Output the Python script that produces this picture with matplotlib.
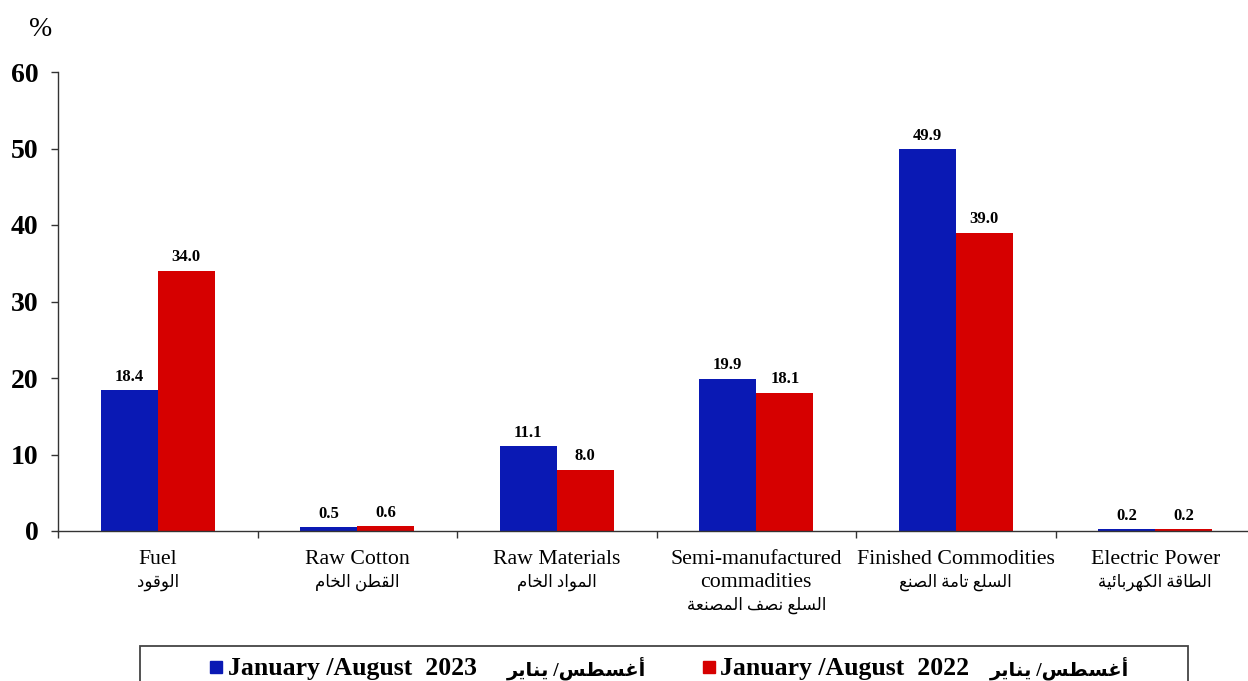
import matplotlib
matplotlib.use('Agg')
import matplotlib.pyplot as plt
from matplotlib.patches import Rectangle

# data
categories_en = ['Fuel', 'Raw Cotton', 'Raw Materials', 'Semi-manufactured\ncommadities',
                 'Finished Commodities', 'Electric Power']
categories_ar = ['الوقود', 'القطن الخام', 'المواد الخام', 'السلع نصف المصنعة',
                 'السلع تامة الصنع', 'الطاقة الكهربائية']
values_2023 = [18.4, 0.5, 11.1, 19.9, 49.9, 0.2]
values_2022 = [34.0, 0.6, 8.0, 18.1, 39.0, 0.2]
legend_en = ['January /August  2023', 'January /August  2022']
legend_ar_words = ['يناير', 'أغسطس']
y_ticks = [0, 10, 20, 30, 40, 50, 60]

BLUE = '#0a19b4'
RED = '#d60000'
SERIF = ['Liberation Serif', 'DejaVu Sans']

# matplotlib has no Arabic shaping, so map letters to presentation forms by hand
FORMS = {
    'ا': (0xFE8D, 0xFE8E), 'أ': (0xFE83, 0xFE84), 'د': (0xFEA9, 0xFEAA),
    'ر': (0xFEAD, 0xFEAE), 'و': (0xFEED, 0xFEEE), 'ة': (0xFE93, 0xFE94),
    'ب': (0xFE8F, 0xFE90, 0xFE91, 0xFE92), 'ت': (0xFE95, 0xFE96, 0xFE97, 0xFE98),
    'خ': (0xFEA5, 0xFEA6, 0xFEA7, 0xFEA8), 'س': (0xFEB1, 0xFEB2, 0xFEB3, 0xFEB4),
    'ص': (0xFEB9, 0xFEBA, 0xFEBB, 0xFEBC), 'ط': (0xFEC1, 0xFEC2, 0xFEC3, 0xFEC4),
    'ع': (0xFEC9, 0xFECA, 0xFECB, 0xFECC), 'غ': (0xFECD, 0xFECE, 0xFECF, 0xFED0),
    'ف': (0xFED1, 0xFED2, 0xFED3, 0xFED4), 'ق': (0xFED5, 0xFED6, 0xFED7, 0xFED8),
    'ك': (0xFED9, 0xFEDA, 0xFEDB, 0xFEDC), 'ل': (0xFEDD, 0xFEDE, 0xFEDF, 0xFEE0),
    'م': (0xFEE1, 0xFEE2, 0xFEE3, 0xFEE4), 'ن': (0xFEE5, 0xFEE6, 0xFEE7, 0xFEE8),
    'ه': (0xFEE9, 0xFEEA, 0xFEEB, 0xFEEC), 'ي': (0xFEF1, 0xFEF2, 0xFEF3, 0xFEF4),
    'ئ': (0xFE89, 0xFE8A, 0xFE8B, 0xFE8C),
}
LAM_ALEF = {'ا': (0xFEFB, 0xFEFC), 'أ': (0xFEF7, 0xFEF8)}


def dual(c):
    return c in FORMS and len(FORMS[c]) == 4


def shape(text):
    chars = list(text)
    out = []
    i = 0
    while i < len(chars):
        c = chars[i]
        prev = chars[i - 1] if i > 0 else ''
        if c not in FORMS:
            out.append(c)
            i += 1
            continue
        jp = dual(prev)
        if c == 'ل' and i + 1 < len(chars) and chars[i + 1] in LAM_ALEF:
            out.append(chr(LAM_ALEF[chars[i + 1]][1 if jp else 0]))
            i += 2
            continue
        nxt = chars[i + 1] if i + 1 < len(chars) else ''
        jn = dual(c) and nxt in FORMS
        f = FORMS[c]
        if jp and jn:
            out.append(chr(f[3]))
        elif jp:
            out.append(chr(f[1]))
        elif jn:
            out.append(chr(f[2]))
        else:
            out.append(chr(f[0]))
        i += 1
    return ''.join(reversed(out))


fig = plt.figure(figsize=(12.48, 6.81), dpi=100)
W, H = 1248, 681
ax = fig.add_axes([58 / W, (H - 531) / H, 6 * 199.5 / W, (531 - 72) / H])

n = len(categories_en)
x = list(range(n))
bw = 0.286
ax.bar([i - bw / 2 for i in x], values_2023, bw, color=BLUE)
ax.bar([i + bw / 2 for i in x], values_2022, bw, color=RED)

for i in x:
    for dx, v in ((-bw / 2, values_2023[i]), (bw / 2, values_2022[i])):
        ax.annotate(f'{v:.1f}', (i + dx, v), xytext=(0, 4), textcoords='offset points',
                    ha='center', va='bottom', fontsize=12, fontweight='bold', family=SERIF)

ax.set_xlim(-0.5, n - 0.5)
ax.set_ylim(0, 60)
ax.set_yticks(y_ticks)
ax.set_yticklabels([str(t) for t in y_ticks], fontsize=20, fontweight='bold', family=SERIF)
ax.set_xticks([i - 0.5 for i in range(n)])
ax.set_xticklabels([])
ax.tick_params(axis='both', direction='out', length=5, width=1, color='#333333')
ax.tick_params(axis='y', pad=9)
for s in ('top', 'right'):
    ax.spines[s].set_visible(False)
for s in ('left', 'bottom'):
    ax.spines[s].set_color('#333333')
    ax.spines[s].set_linewidth(1)

for i in x:
    en = categories_en[i]
    nl = en.count('\n') + 1
    ax.annotate(en, (i, 0), xycoords=('data', 'axes fraction'), xytext=(0, -13.5),
                textcoords='offset points', ha='center', va='top', fontsize=15.7,
                family=SERIF, linespacing=1.3)
    ax.annotate(shape(categories_ar[i]), (i, 0), xycoords=('data', 'axes fraction'),
                xytext=(0, -13.4 - 17.1 * nl), textcoords='offset points', ha='center',
                va='top', fontsize=12, family=SERIF)

fig.text(41 / W, 1 - 29 / H, '%', fontsize=20, family=SERIF, ha='center', va='center')

# legend box at the bottom, cut by the figure edge like the original
fig.patches.append(Rectangle((140 / W, -0.02), (1188 - 140) / W, (H - 646) / H + 0.02,
                             transform=fig.transFigure, fill=False, edgecolor='#444444',
                             linewidth=1.3))
ar_label = shape(legend_ar_words[0]) + ' /' + shape(legend_ar_words[1])
for color, sx in ((BLUE, 210), (RED, 703)):
    fig.patches.append(Rectangle((sx / W, 1 - 673 / H), 12 / W, 12 / H,
                                 transform=fig.transFigure, color=color))
for lab, tx, ax_x in ((legend_en[0], 228, 507), (legend_en[1], 720, 990)):
    fig.text(tx / W, 1 - 668 / H, lab, fontsize=18.5, fontweight='bold', family=SERIF,
             ha='left', va='center')
    fig.text(ax_x / W, 1 - 668 / H, ar_label, fontsize=14, fontweight='bold',
             family=SERIF, ha='left', va='center')

fig.savefig('out.png', dpi=100)
